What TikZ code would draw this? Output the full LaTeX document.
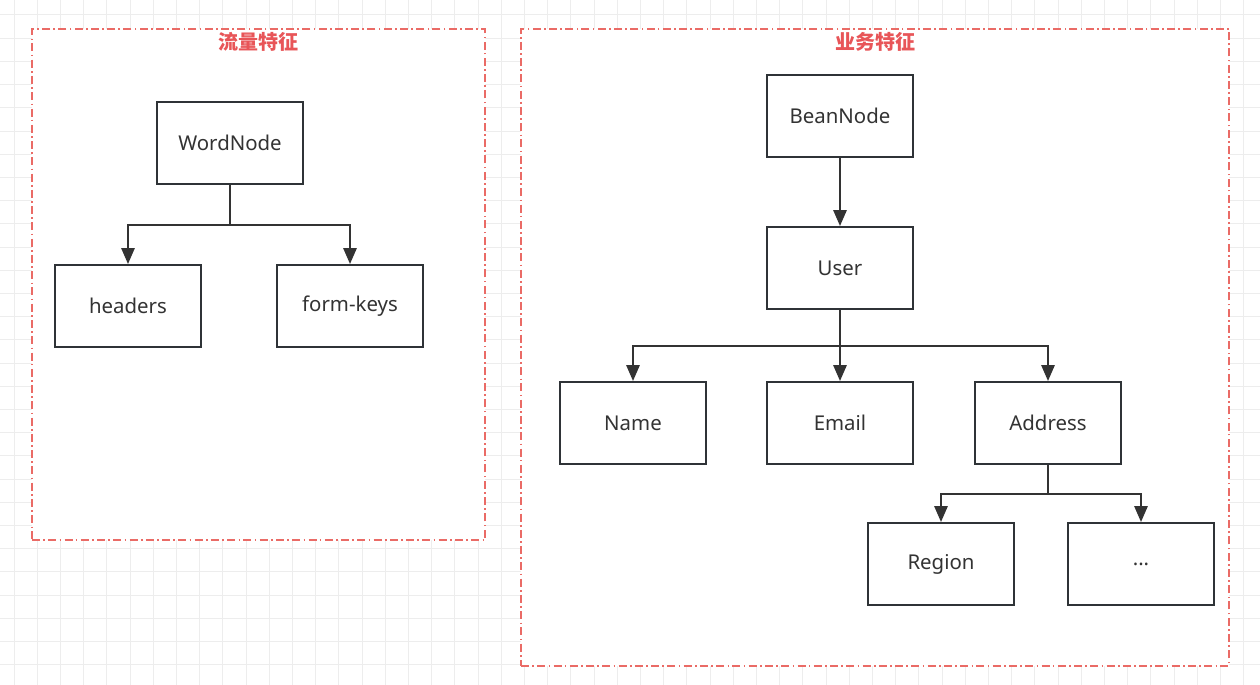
\documentclass[tikz,border=0pt]{standalone}
\usepackage{fontspec}
\setmainfont{Noto Sans}
\newfontfamily\cjk{Noto Sans CJK SC}
\usetikzlibrary{arrows.meta,positioning}
\definecolor{GridGray}{HTML}{EDEDED}
\definecolor{FrameRed}{HTML}{EA6B66}
\definecolor{TitleRed}{HTML}{E85558}
\definecolor{BoxEdge}{HTML}{2F3337}
\definecolor{LinkGray}{HTML}{333333}
\tikzset{
    % background grid
    grid line/.style={
        draw=GridGray,
        line width=0.75pt
    },
    % dash-dot group frames
    group frame/.style={
        rectangle,
        draw=FrameRed,
        fill=white,
        line width=0.8pt,
        dash pattern=on 6pt off 2.5pt on 1.2pt off 2.5pt
    },
    group title/.style={
        font=\cjk\bfseries\fontsize{15}{18}\selectfont,
        text=TitleRed
    },
    % boxes
    entity/.style={
        rectangle,
        draw=BoxEdge,
        line width=1.5pt,
        fill=white,
        text=LinkGray,
        minimum width=109.5pt,
        minimum height=61.5pt,
        font=\fontsize{15.3}{18}\selectfont
    },
    link/.style={
        -{Triangle[length=12pt,width=10pt]},
        draw=LinkGray,
        line width=1.5pt
    }
}
\begin{document}
\begin{tikzpicture}[x=0.75pt, y=-0.75pt]
        \useasboundingbox (0,0) rectangle (1260,685);
        \fill[white] (0,0) rectangle (1260,685);
        % Grid
        \foreach \gx in {0,...,53}
            \draw[grid line] ({14+23.2*\gx},0) -- ({14+23.2*\gx},685);
        \foreach \gy in {0,...,29}
            \draw[grid line] (0,{15+23.2*\gy}) -- (1260,{15+23.2*\gy});

        % Groups
        \node[group frame, minimum width=339.75pt, minimum height=383.25pt] (trafficgroup) at (258.5,284.5) {};
        \node[group frame, minimum width=531pt, minimum height=477.75pt] (bizgroup) at (875,347.5) {};
        \node[group title] (traffictitle) at (258.5,42) {流量特征};
        \node[group title] (biztitle) at (875,42) {业务特征};

        % Traffic nodes
        \node[entity] (wordnode) at (230,143) {WordNode};
        \node[entity] (headers) at (128,306) {headers};
        \node[entity] (formkeys) at (350,306) {form-keys};
        \coordinate (wordsplit) at (230,225);

        % Business nodes
        \node[entity] (beannode) at (840,116) {BeanNode};
        \node[entity] (user) at (840,268) {User};
        \node[entity] (name) at (633,423) {Name};
        \node[entity] (email) at (840,423) {Email};
        \node[entity] (address) at (1048,423) {Address};
        \node[entity] (region) at (941,564) {Region};
        \node[entity] (more) at (1141,564) {...};
        \coordinate (usersplit) at (840,346);
        \coordinate (addresssplit) at (1048,494);

        % Arrows
        \draw[link] (wordnode.south) -- (wordsplit) -| (headers.north);
        \draw[link] (wordsplit) -| (formkeys.north);
        \draw[link] (beannode) -- (user);
        \draw[link] (user.south) -- (usersplit) -| (name.north);
        \draw[link] (usersplit) -- (email.north);
        \draw[link] (usersplit) -| (address.north);
        \draw[link] (address.south) -- (addresssplit) -| (region.north);
        \draw[link] (addresssplit) -| (more.north);
    \end{tikzpicture}
\end{document}
